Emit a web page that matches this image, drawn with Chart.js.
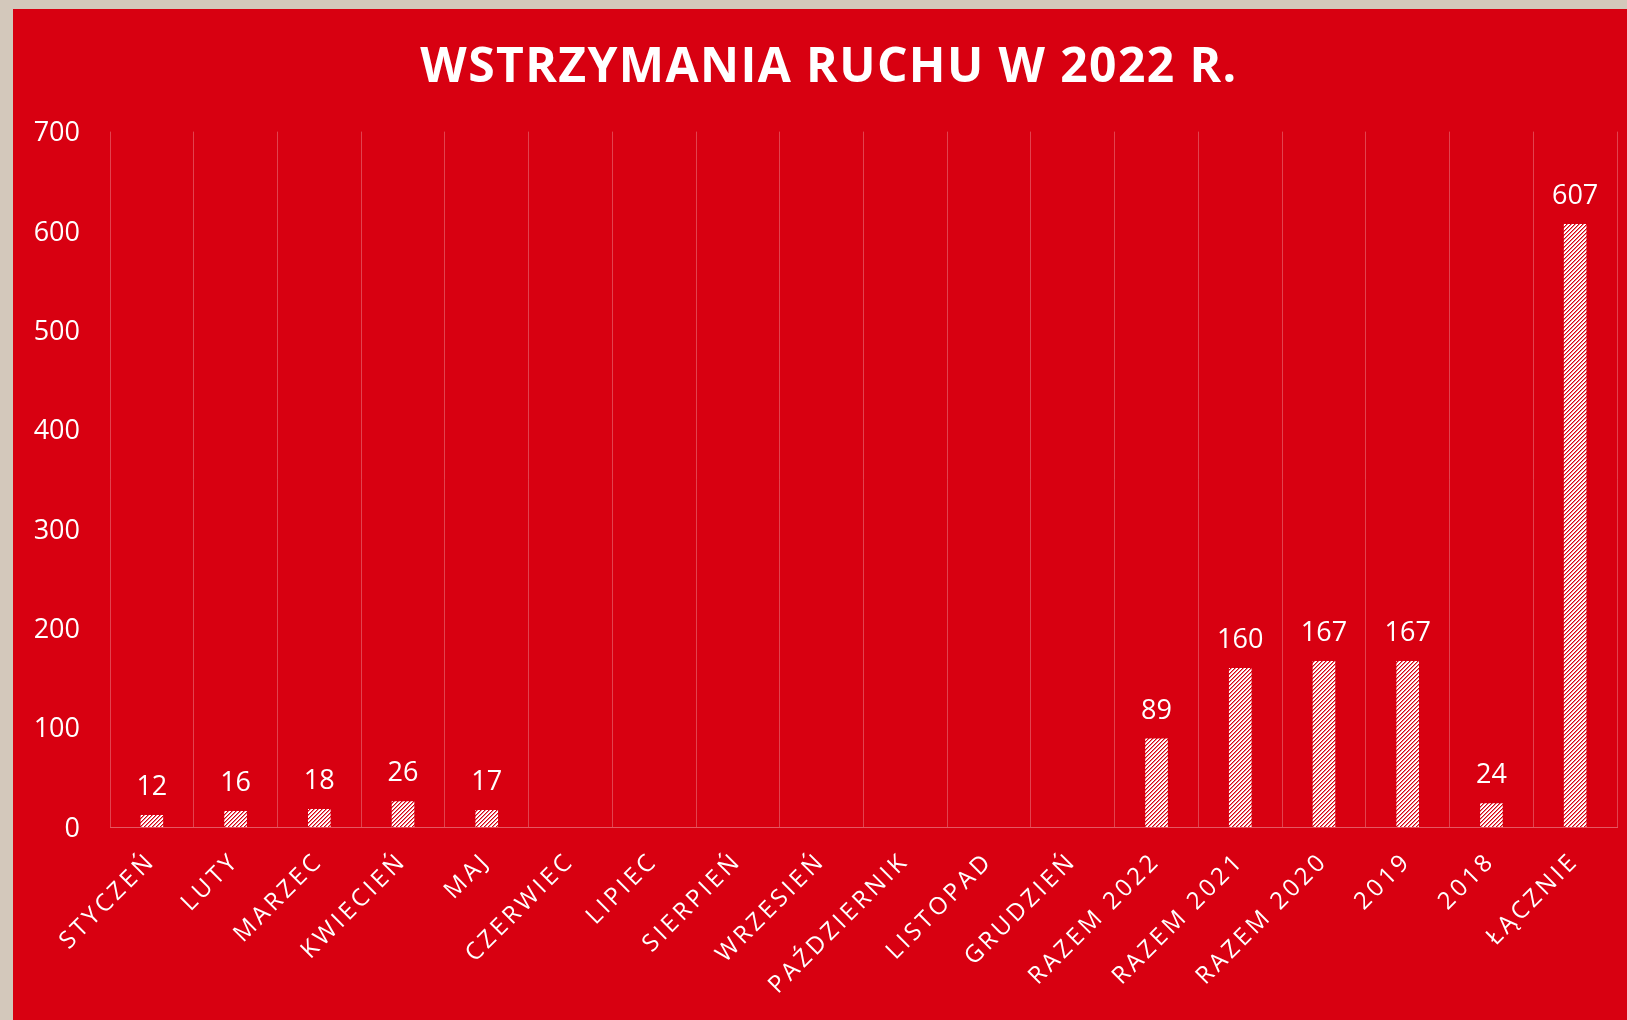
<!DOCTYPE html>
<html>
<head>
<meta charset="utf-8">
<script src="https://cdn.jsdelivr.net/npm/chart.js@4.4.1/dist/chart.umd.min.js"></script>
<style>
  html, body { margin: 0; padding: 0; background: #D3C8BB; overflow: hidden; width: 1627px; height: 1020px; }
  #wrap { position: absolute; left: 13px; top: 9px; width: 1614px; height: 1011px; background: #D80011; }
</style>
</head>
<body>
<div id="wrap"><canvas id="c"></canvas></div>
<script>
const categories = ['STYCZEŃ','LUTY','MARZEC','KWIECIEŃ','MAJ','CZERWIEC','LIPIEC','SIERPIEŃ','WRZESIEŃ','PAŹDZIERNIK','LISTOPAD','GRUDZIEŃ','RAZEM 2022','RAZEM 2021','RAZEM 2020','2019','2018','ŁĄCZNIE'];
const values = [12, 16, 18, 26, 17, null, null, null, null, null, null, null, 89, 160, 167, 167, 24, 607];
const yTicks = [0, 100, 200, 300, 400, 500, 600, 700];
const titleText = 'WSTRZYMANIA RUCHU W 2022 R.';

const RED = [216, 0, 17];

function makePattern() {
  const n = 4;
  const t = document.createElement('canvas');
  t.width = n; t.height = n;
  const g = t.getContext('2d');
  const img = g.createImageData(n, n);
  for (let y = 0; y < n; y++) {
    for (let x = 0; x < n; x++) {
      const k = (x + y) % n;
      const i = (y * n + x) * 4;
      let c = [255, 255, 255];
      if (k === 0) c = RED;
      else if (k === 1) c = [236, 128, 136];
      img.data[i] = c[0]; img.data[i + 1] = c[1]; img.data[i + 2] = c[2]; img.data[i + 3] = 255;
    }
  }
  g.putImageData(img, 0, 0);
  return g.createPattern(t, 'repeat');
}

const valueLabels = {
  id: 'valueLabels',
  afterDatasetsDraw(chart) {
    const ctx = chart.ctx;
    const meta = chart.getDatasetMeta(0);
    ctx.save();
    ctx.fillStyle = '#ffffff';
    ctx.font = '27px "Open Sans"';
    ctx.textAlign = 'center';
    ctx.textBaseline = 'alphabetic';
    meta.data.forEach((bar, i) => {
      const v = values[i];
      if (v === null || v === undefined) return;
      ctx.fillText(String(v), bar.x, bar.y - 20);
    });
    ctx.restore();
  }
};

function spaced(obj, fnName, spacing) {
  const orig = obj[fnName];
  obj[fnName] = function (...args) {
    const c = this.ctx;
    c.save();
    c.letterSpacing = spacing;
    const r = orig.apply(this, args);
    c.restore();
    return r;
  };
}

const textTweaks = {
  id: 'textTweaks',
  afterLayout(chart) {
    const s = chart.scales.x;
    if (s && !s._spaced) { spaced(s, 'drawLabels', '3.5px'); s._spaced = true; }
    const t = chart.titleBlock;
    if (t) {
      if (!t._spaced) { spaced(t, 'draw', '1.4px'); t._spaced = true; }
      t.left = 28;
    }
  }
};

new Chart(document.getElementById('c'), {
  type: 'bar',
  data: {
    labels: categories,
    datasets: [{
      data: values,
      backgroundColor: makePattern(),
      borderWidth: 0,
      barPercentage: 0.27,
      categoryPercentage: 1.0
    }]
  },
  options: {
    responsive: true,
    maintainAspectRatio: false,
    animation: false,
    layout: { padding: { left: 0, right: 10, top: 0, bottom: 0 } },
    plugins: {
      legend: { display: false },
      tooltip: { enabled: false },
      title: {
        display: true,
        text: titleText,
        color: '#ffffff',
        font: { family: '"Open Sans"', size: 48, weight: 'bold' },
        padding: { top: 31, bottom: 34 }
      }
    },
    scales: {
      x: {
        offset: true,
        grid: { display: true, color: 'rgba(255,255,255,0.26)', lineWidth: 1, offset: true, drawTicks: false },
        border: { display: true, color: 'rgba(255,255,255,0.34)', width: 1 },
        ticks: {
          color: '#ffffff',
          font: { family: '"Open Sans"', size: 24 },
          autoSkip: false,
          minRotation: 45,
          maxRotation: 45,
          padding: 20
        },
        afterFit(scale) { scale.height = 193; }
      },
      y: {
        min: 0,
        max: 700,
        afterBuildTicks(scale) { scale.ticks = yTicks.map(v => ({ value: v })); },
        grid: { display: false, drawTicks: false },
        border: { display: false },
        ticks: {
          color: '#ffffff',
          font: { family: '"Open Sans"', size: 27 },
          padding: 30,
          labelOffset: 2
        },
        afterFit(scale) { scale.width = 97; }
      }
    }
  },
  plugins: [valueLabels, textTweaks]
});
</script>
</body>
</html>
